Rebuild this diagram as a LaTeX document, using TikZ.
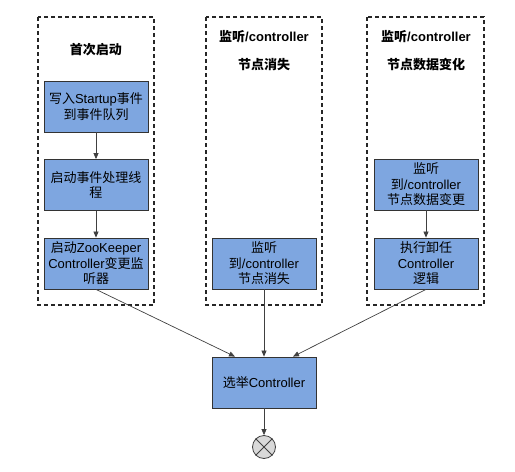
\documentclass[tikz,border=0pt]{standalone}
\usepackage{fontspec}
\setmainfont{Liberation Sans}
\newfontfamily\cjk{Noto Sans CJK SC}
\newcommand\zh[1]{{\cjk #1}}
\usetikzlibrary{arrows.meta}
\definecolor{boxblue}{HTML}{7EA6E0}
\begin{document}
\begin{tikzpicture}[x=1pt,y=-1pt,
  blk/.style={draw=black!80,fill=boxblue,line width=0.8pt,minimum width=104pt,minimum height=51pt,align=center,inner sep=1pt,font=\fontsize{13}{15.5}\selectfont},
  grp/.style={draw=black!85,dashed,dash pattern=on 4pt off 3pt,line width=1.4pt},
  ttl/.style={font=\bfseries\fontsize{13}{15}\selectfont},
  arr/.style={-{Triangle[length=6pt,width=5pt]},draw=black!75,line width=0.7pt}]
\useasboundingbox (0,0) rectangle (515,472);
% dashed groups
\draw[grp] (38,17) rectangle (154,305);
\draw[grp] (206,17) rectangle (322,305);
\draw[grp] (367,17) rectangle (484,305);
% titles
\node[ttl] (t1) at (96,50) {\zh{首次启动}};
\node[ttl] (t2a) at (264,37) {\zh{监听}/controller};
\node[ttl] (t2b) at (264,65) {\zh{节点消失}};
\node[ttl] (t3a) at (426,37) {\zh{监听}/controller};
\node[ttl] (t3b) at (426,65) {\zh{节点数据变化}};
% boxes
\node[blk] (a1) at (96,106.5) {\zh{写入}Startup\zh{事件}\\\zh{到事件队列}};
\node[blk] (a2) at (96,185) {\zh{启动事件处理线}\\\zh{程}};
\node[blk] (a3) at (96,263.5) {\zh{启动}ZooKeeper\\Controller\zh{变更监}\\\zh{听器}};
\node[blk] (b1) at (264,263.5) {\zh{监听}\\\zh{到}/controller\\\zh{节点消失}};
\node[blk] (c1) at (426,184.5) {\zh{监听}\\\zh{到}/controller\\\zh{节点数据变更}};
\node[blk] (c2) at (426,263.5) {\zh{执行卸任}\\Controller\\\zh{逻辑}};
\node[blk] (s) at (264,382.5) {\zh{选举}Controller};
\node[draw=black!75,fill=black!15,circle,line width=0.8pt,minimum size=23pt,inner sep=0pt] (ec) at (264,447) {};
\draw[black!75,line width=0.8pt] (ec.north west) -- (ec.south east) (ec.north east) -- (ec.south west);
% arrows
\draw[arr] (a1) -- (a2);
\draw[arr] (a2) -- (a3);
\draw[arr] (c1) -- (c2);
\draw[arr] (a3.south) -- ([xshift=-29pt]s.north);
\draw[arr] (b1.south) -- (s.north);
\draw[arr] (c2.south) -- ([xshift=29pt]s.north);
\draw[arr] (s.south) -- (ec.north);
% orange fragment at bottom-left
\fill[orange!85!yellow] (18,472) arc[start angle=180,end angle=0,x radius=6,y radius=3.5];
\end{tikzpicture}
\end{document}
